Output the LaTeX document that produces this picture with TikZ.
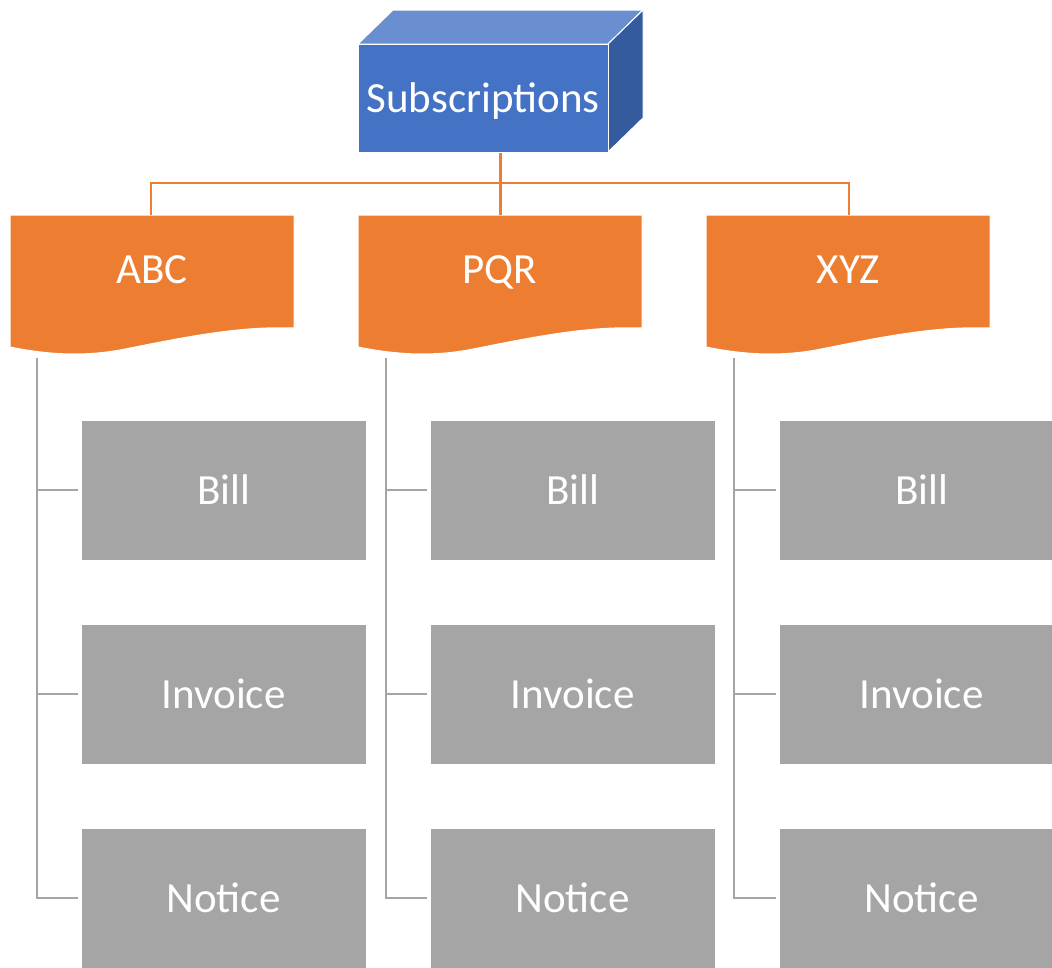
\documentclass[tikz,border=0pt]{standalone}
\usepackage{fontspec}
\setmainfont{Carlito}
\definecolor{cubeblue}{HTML}{4472C4}
\definecolor{cubetopc}{HTML}{6A8FD1}
\definecolor{cubeside}{HTML}{345B9E}
\definecolor{orng}{HTML}{ED7D31}
\definecolor{gry}{HTML}{A5A5A5}
\tikzset{
  labeltext/.style={text=white, font=\fontsize{43}{50}\selectfont, text depth=0pt, inner sep=0pt},
  cubeface/.style={fill=cubeblue, draw=white, line width=1pt, labeltext, minimum width=250, minimum height=108},
  docnode/.style={labeltext, minimum width=284, minimum height=30},
  docfill/.style={fill=orng, draw=white, line width=1pt},
  graybox/.style={fill=gry, draw=white, line width=1pt, labeltext, minimum width=285, minimum height=140},
  orangeline/.style={draw=orng, line width=2.6pt},
  grayline/.style={draw=gry, line width=2.4pt},
}
\begin{document}
\begin{tikzpicture}[x=1pt,y=-1pt]
\useasboundingbox (0,0) rectangle (1052,967);
\clip (0,0) rectangle (1052,967);
% cube
\fill[cubetopc, draw=white, line width=1pt] (358,44) -- (393,10) -- (643,10) -- (608,44) -- cycle;
\fill[cubeside, draw=white, line width=1pt] (608,44) -- (643,10) -- (643,118) -- (608,152) -- cycle;
\node[cubeface] (sub) at (483,98) {Subscriptions};
\coordinate (subbot) at (500.5,153);
\coordinate (bus) at (500.5,183);
% documents
\foreach \dx/\nm/\tx in {0/abc/ABC, 348/pqr/PQR, 696/xyz/XYZ}{
  \begin{scope}[xshift=\dx]
  \fill[docfill] (10,215) -- (294,215) -- (294,328)
     .. controls (240,326) and (190,336) .. (120,350)
     .. controls (80,357) and (45,354) .. (10,347) -- cycle;
  \end{scope}
}
\node[docnode] (abc) at (152,270) {ABC};
\node[docnode] (pqr) at (500,270) {PQR};
\node[docnode] (xyz) at (848.5,270) {XYZ};
\coordinate (abctop) at (151,215);
\coordinate (pqrtop) at (500.5,215);
\coordinate (xyztop) at (849,215);
% orange connectors
\draw[orangeline] (subbot) -- (pqrtop);
\draw[orangeline] (abctop) |- (bus) -| (xyztop);
% gray boxes
\foreach \col/\bx/\lx in {1/223.5/37, 2/572.5/386, 3/921.5/734}{
  \node[graybox] (bill\col) at (\bx,490) {Bill};
  \node[graybox] (invoice\col) at (\bx,694) {Invoice};
  \node[graybox] (notice\col) at (\bx,898) {Notice};
  \coordinate (stem\col) at (\lx,358);
  \draw[grayline] (stem\col) |- ([xshift=-3pt]notice\col.west);
  \draw[grayline] (\lx,490) -- ([xshift=-3pt]bill\col.west);
  \draw[grayline] (\lx,694) -- ([xshift=-3pt]invoice\col.west);
}
\end{tikzpicture}
\end{document}
